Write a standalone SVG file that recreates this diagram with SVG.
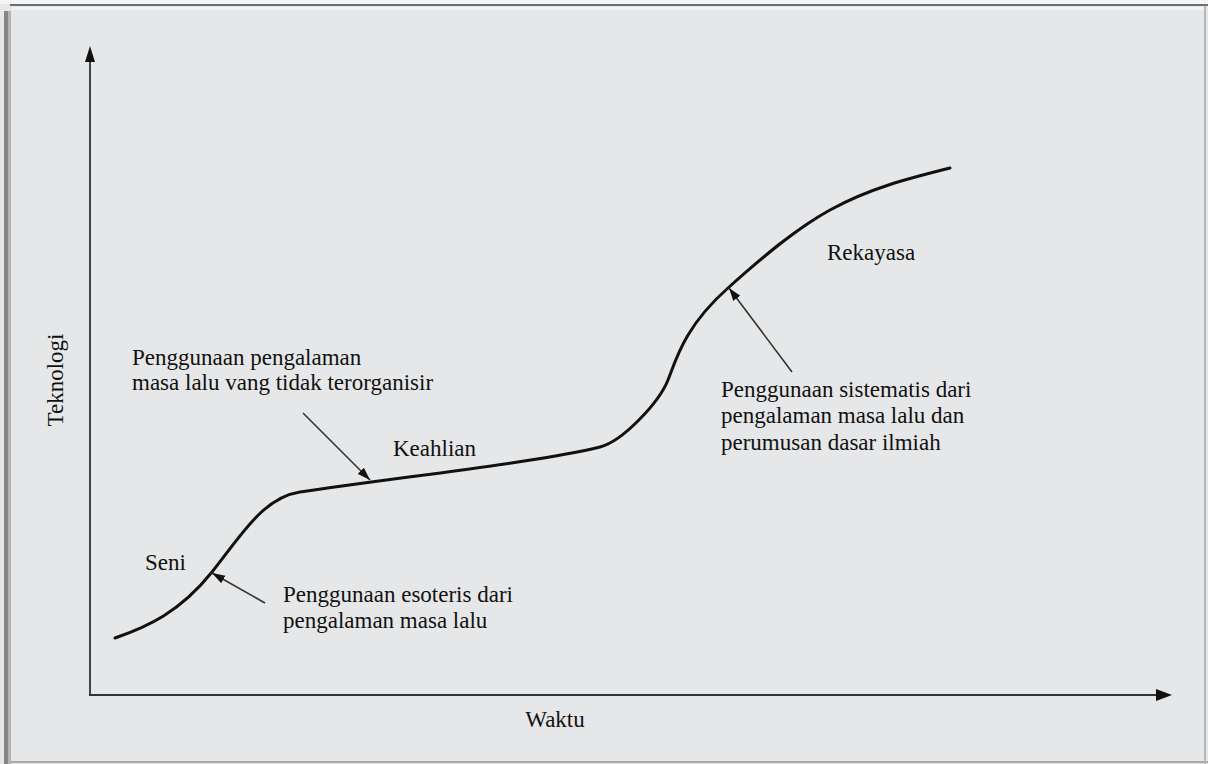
<svg xmlns="http://www.w3.org/2000/svg" width="1208" height="764" viewBox="0 0 1208 764">
<defs>
<style>
text{font-family:'Liberation Serif',Tinos,'Times New Roman','DejaVu Serif',serif;font-size:23px;fill:#111;}
.ptr{stroke:#333;stroke-width:1.6;fill:none;marker-end:url(#ah);}
.axis{stroke:#444;stroke-width:2;fill:none;}
</style>
<marker id="ah" viewBox="0 0 12 8" refX="12" refY="4" markerWidth="13" markerHeight="9" markerUnits="userSpaceOnUse" orient="auto">
<path d="M0,0 L12,4 L0,8 Z" fill="#111"/>
</marker>
</defs>
<g id="frame">
<rect x="0" y="0" width="1208" height="764" fill="#e6e7e8"/>
<rect x="0" y="0" width="1208" height="4" fill="#f4f5f6"/>
<rect x="10" y="4" width="1198" height="2" fill="#6e6e6e"/>
<rect x="12" y="7" width="1192" height="3" fill="#f2f3f4"/>
<rect x="4" y="11" width="4" height="753" fill="#858585"/>
<rect x="8" y="11" width="3" height="753" fill="#b3b3b3"/>
<rect x="11" y="761" width="1197" height="2" fill="#a8a8a8"/>
<rect x="1204" y="6" width="2" height="758" fill="#b8b8b8"/>
</g>
<g id="axes">
<line class="axis" x1="90" y1="60" x2="90" y2="696"/>
<path d="M90,46 L85,62 L95,62 Z" fill="#111"/>
<line class="axis" x1="89" y1="695" x2="1160" y2="695" stroke-width="2.5" style="stroke:#333"/>
<path d="M1172,695 L1156,689 L1156,701 Z" fill="#111"/>
<text font-family="Liberation Serif, serif" transform="translate(63,380) rotate(-90)" text-anchor="middle">Teknologi</text>
<text font-family="Liberation Serif, serif" x="555" y="727" text-anchor="middle">Waktu</text>
</g>
<g id="curve">
<path d="M115,638 C147.3,626.7 179.7,612.4 212,572 C241.3,535.3 263,497.6 300,492 C400,477 540,462 600,447 C622.7,441.3 659,402.5 668,380 C676,360 684,327 728,288 C762,257.4 796,228.7 830,210 C870,188 910,178 950,168" stroke="#111" stroke-width="3" fill="none" stroke-linecap="round"/>
</g>
<g id="connectors">
<line class="ptr" x1="265" y1="603" x2="212" y2="573"/>
<line class="ptr" x1="303" y1="413" x2="370" y2="480"/>
<line class="ptr" x1="792" y1="372" x2="729" y2="288"/>
</g>
<g id="seni" font-family="Liberation Serif, serif">
<text x="145" y="570">Seni</text>
</g>
<g id="esoteris" font-family="Liberation Serif, serif">
<text x="283" y="602">Penggunaan esoteris dari</text>
<text x="283" y="628">pengalaman masa lalu</text>
</g>
<g id="tidak-terorganisir" font-family="Liberation Serif, serif">
<text x="132" y="365">Penggunaan pengalaman</text>
<text x="132" y="390">masa lalu vang tidak terorganisir</text>
</g>
<g id="keahlian" font-family="Liberation Serif, serif">
<text x="393" y="456">Keahlian</text>
</g>
<g id="rekayasa" font-family="Liberation Serif, serif">
<text x="827" y="260">Rekayasa</text>
</g>
<g id="sistematis" font-family="Liberation Serif, serif">
<text x="721" y="397">Penggunaan sistematis dari</text>
<text x="721" y="423">pengalaman masa lalu dan</text>
<text x="721" y="450">perumusan dasar ilmiah</text>
</g>
</svg>
